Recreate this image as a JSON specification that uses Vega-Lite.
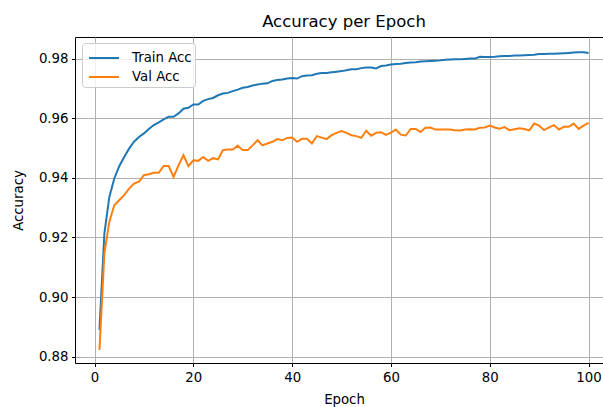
{
  "$schema": "https://vega.github.io/schema/vega-lite/v6.json",
  "autosize": {"type": "none"},
  "padding": {"left": 75, "top": 37, "right": 0, "bottom": 44},
  "width": 538,
  "height": 326,
  "background": "white",
  "title": {"text": "Accuracy per Epoch", "anchor": "middle", "frame": "group", "baseline": "alphabetic", "offset": 9, "dy": 15, "font": "DejaVu Sans", "fontSize": 16.5, "fontWeight": "normal", "color": "#000"},
  "data": {"values": [
    {"epoch": 1, "Train Acc": 0.889, "Val Acc": 0.8823},
    {"epoch": 2, "Train Acc": 0.9214, "Val Acc": 0.9147},
    {"epoch": 3, "Train Acc": 0.9336, "Val Acc": 0.9253},
    {"epoch": 4, "Train Acc": 0.9398, "Val Acc": 0.9308},
    {"epoch": 5, "Train Acc": 0.9439, "Val Acc": 0.9325},
    {"epoch": 6, "Train Acc": 0.947, "Val Acc": 0.9342},
    {"epoch": 7, "Train Acc": 0.9498, "Val Acc": 0.9364},
    {"epoch": 8, "Train Acc": 0.9521, "Val Acc": 0.9381},
    {"epoch": 9, "Train Acc": 0.9537, "Val Acc": 0.9387},
    {"epoch": 10, "Train Acc": 0.9549, "Val Acc": 0.9409},
    {"epoch": 11, "Train Acc": 0.9564, "Val Acc": 0.9412},
    {"epoch": 12, "Train Acc": 0.9577, "Val Acc": 0.9417},
    {"epoch": 13, "Train Acc": 0.9586, "Val Acc": 0.9417},
    {"epoch": 14, "Train Acc": 0.9596, "Val Acc": 0.944},
    {"epoch": 15, "Train Acc": 0.9605, "Val Acc": 0.944},
    {"epoch": 16, "Train Acc": 0.9605, "Val Acc": 0.9403},
    {"epoch": 17, "Train Acc": 0.9616, "Val Acc": 0.9442},
    {"epoch": 18, "Train Acc": 0.9632, "Val Acc": 0.9476},
    {"epoch": 19, "Train Acc": 0.9635, "Val Acc": 0.9439},
    {"epoch": 20, "Train Acc": 0.9646, "Val Acc": 0.9459},
    {"epoch": 21, "Train Acc": 0.9646, "Val Acc": 0.9457},
    {"epoch": 22, "Train Acc": 0.9658, "Val Acc": 0.947},
    {"epoch": 23, "Train Acc": 0.9664, "Val Acc": 0.9457},
    {"epoch": 24, "Train Acc": 0.9668, "Val Acc": 0.9466},
    {"epoch": 25, "Train Acc": 0.9677, "Val Acc": 0.9462},
    {"epoch": 26, "Train Acc": 0.9683, "Val Acc": 0.9493},
    {"epoch": 27, "Train Acc": 0.9685, "Val Acc": 0.9495},
    {"epoch": 28, "Train Acc": 0.9691, "Val Acc": 0.9495},
    {"epoch": 29, "Train Acc": 0.9696, "Val Acc": 0.9508},
    {"epoch": 30, "Train Acc": 0.9702, "Val Acc": 0.9493},
    {"epoch": 31, "Train Acc": 0.9705, "Val Acc": 0.9493},
    {"epoch": 32, "Train Acc": 0.971, "Val Acc": 0.9509},
    {"epoch": 33, "Train Acc": 0.9713, "Val Acc": 0.9526},
    {"epoch": 34, "Train Acc": 0.9716, "Val Acc": 0.9509},
    {"epoch": 35, "Train Acc": 0.9717, "Val Acc": 0.9515},
    {"epoch": 36, "Train Acc": 0.9725, "Val Acc": 0.9521},
    {"epoch": 37, "Train Acc": 0.9728, "Val Acc": 0.953},
    {"epoch": 38, "Train Acc": 0.973, "Val Acc": 0.9526},
    {"epoch": 39, "Train Acc": 0.9733, "Val Acc": 0.9534},
    {"epoch": 40, "Train Acc": 0.9735, "Val Acc": 0.9535},
    {"epoch": 41, "Train Acc": 0.9733, "Val Acc": 0.9521},
    {"epoch": 42, "Train Acc": 0.9741, "Val Acc": 0.9531},
    {"epoch": 43, "Train Acc": 0.9743, "Val Acc": 0.9531},
    {"epoch": 44, "Train Acc": 0.9744, "Val Acc": 0.9515},
    {"epoch": 45, "Train Acc": 0.9749, "Val Acc": 0.954},
    {"epoch": 46, "Train Acc": 0.9752, "Val Acc": 0.9535},
    {"epoch": 47, "Train Acc": 0.9752, "Val Acc": 0.953},
    {"epoch": 48, "Train Acc": 0.9754, "Val Acc": 0.9543},
    {"epoch": 49, "Train Acc": 0.9756, "Val Acc": 0.9551},
    {"epoch": 50, "Train Acc": 0.9758, "Val Acc": 0.9557},
    {"epoch": 51, "Train Acc": 0.9761, "Val Acc": 0.9551},
    {"epoch": 52, "Train Acc": 0.9764, "Val Acc": 0.9543},
    {"epoch": 53, "Train Acc": 0.9764, "Val Acc": 0.954},
    {"epoch": 54, "Train Acc": 0.9768, "Val Acc": 0.9534},
    {"epoch": 55, "Train Acc": 0.977, "Val Acc": 0.9558},
    {"epoch": 56, "Train Acc": 0.977, "Val Acc": 0.9541},
    {"epoch": 57, "Train Acc": 0.9767, "Val Acc": 0.9551},
    {"epoch": 58, "Train Acc": 0.9775, "Val Acc": 0.9553},
    {"epoch": 59, "Train Acc": 0.9777, "Val Acc": 0.9544},
    {"epoch": 60, "Train Acc": 0.978, "Val Acc": 0.9552},
    {"epoch": 61, "Train Acc": 0.9782, "Val Acc": 0.9562},
    {"epoch": 62, "Train Acc": 0.9783, "Val Acc": 0.9545},
    {"epoch": 63, "Train Acc": 0.9785, "Val Acc": 0.9542},
    {"epoch": 64, "Train Acc": 0.9787, "Val Acc": 0.9564},
    {"epoch": 65, "Train Acc": 0.9788, "Val Acc": 0.9564},
    {"epoch": 66, "Train Acc": 0.979, "Val Acc": 0.9554},
    {"epoch": 67, "Train Acc": 0.9791, "Val Acc": 0.9568},
    {"epoch": 68, "Train Acc": 0.9792, "Val Acc": 0.9569},
    {"epoch": 69, "Train Acc": 0.9793, "Val Acc": 0.9562},
    {"epoch": 70, "Train Acc": 0.9794, "Val Acc": 0.9562},
    {"epoch": 71, "Train Acc": 0.9796, "Val Acc": 0.9562},
    {"epoch": 72, "Train Acc": 0.9797, "Val Acc": 0.9562},
    {"epoch": 73, "Train Acc": 0.9798, "Val Acc": 0.956},
    {"epoch": 74, "Train Acc": 0.9798, "Val Acc": 0.9559},
    {"epoch": 75, "Train Acc": 0.9799, "Val Acc": 0.9562},
    {"epoch": 76, "Train Acc": 0.98, "Val Acc": 0.9563},
    {"epoch": 77, "Train Acc": 0.98, "Val Acc": 0.9562},
    {"epoch": 78, "Train Acc": 0.9806, "Val Acc": 0.9568},
    {"epoch": 79, "Train Acc": 0.9805, "Val Acc": 0.9569},
    {"epoch": 80, "Train Acc": 0.9805, "Val Acc": 0.9575},
    {"epoch": 81, "Train Acc": 0.9806, "Val Acc": 0.9569},
    {"epoch": 82, "Train Acc": 0.9808, "Val Acc": 0.9565},
    {"epoch": 83, "Train Acc": 0.9809, "Val Acc": 0.957},
    {"epoch": 84, "Train Acc": 0.9809, "Val Acc": 0.956},
    {"epoch": 85, "Train Acc": 0.981, "Val Acc": 0.9563},
    {"epoch": 86, "Train Acc": 0.981, "Val Acc": 0.9566},
    {"epoch": 87, "Train Acc": 0.9811, "Val Acc": 0.9564},
    {"epoch": 88, "Train Acc": 0.9812, "Val Acc": 0.9559},
    {"epoch": 89, "Train Acc": 0.9813, "Val Acc": 0.9582},
    {"epoch": 90, "Train Acc": 0.9815, "Val Acc": 0.9575},
    {"epoch": 91, "Train Acc": 0.9815, "Val Acc": 0.956},
    {"epoch": 92, "Train Acc": 0.9816, "Val Acc": 0.9569},
    {"epoch": 93, "Train Acc": 0.9816, "Val Acc": 0.9577},
    {"epoch": 94, "Train Acc": 0.9817, "Val Acc": 0.9562},
    {"epoch": 95, "Train Acc": 0.9818, "Val Acc": 0.9571},
    {"epoch": 96, "Train Acc": 0.9819, "Val Acc": 0.9571},
    {"epoch": 97, "Train Acc": 0.982, "Val Acc": 0.9582},
    {"epoch": 98, "Train Acc": 0.9821, "Val Acc": 0.9564},
    {"epoch": 99, "Train Acc": 0.9821, "Val Acc": 0.9575},
    {"epoch": 100, "Train Acc": 0.9819, "Val Acc": 0.9584}
  ]},
  "transform": [{"fold": ["Train Acc", "Val Acc"], "as": ["series", "acc"]}],
  "mark": {"type": "line", "strokeWidth": 2, "clip": true},
  "encoding": {
    "x": {"field": "epoch", "type": "quantitative", "title": "Epoch",
      "scale": {"domain": [-3.95, 104.95], "nice": false, "zero": false},
      "axis": {"values": [0, 20, 40, 60, 80, 100], "format": "d", "titlePadding": 9}},
    "y": {"field": "acc", "type": "quantitative", "title": "Accuracy",
      "scale": {"domain": [0.8779, 0.98724], "nice": false, "zero": false},
      "axis": {"values": [0.88, 0.9, 0.92, 0.94, 0.96, 0.98], "format": ".2f", "titlePadding": 13}},
    "color": {"field": "series", "type": "nominal",
      "scale": {"domain": ["Train Acc", "Val Acc"], "range": ["#1f77b4", "#ff7f0e"]},
      "legend": {"title": null, "orient": "none", "legendX": 7, "legendY": 6,
        "symbolType": "M-0.727,0H2", "symbolSize": 484, "symbolStrokeWidth": 2,
        "labelFont": "DejaVu Sans", "labelFontSize": 13.3, "labelColor": "#000", "labelOffset": 23,
        "padding": 3, "rowPadding": 0, "fillColor": "rgba(255,255,255,0.8)", "strokeColor": "#cccccc", "cornerRadius": 3}}
  },
  "config": {
    "view": {"stroke": "#000", "strokeWidth": 1},
    "axis": {
      "domain": false,
      "grid": true, "gridColor": "#b0b0b0", "gridWidth": 1,
      "tickColor": "#000", "tickSize": 3.5, "tickWidth": 1,
      "labelFont": "DejaVu Sans", "labelFontSize": 13.3, "labelColor": "#000", "labelPadding": 3.5,
      "titleFont": "DejaVu Sans", "titleFontSize": 13.3, "titleFontWeight": "normal", "titleColor": "#000"
    }
  }
}
